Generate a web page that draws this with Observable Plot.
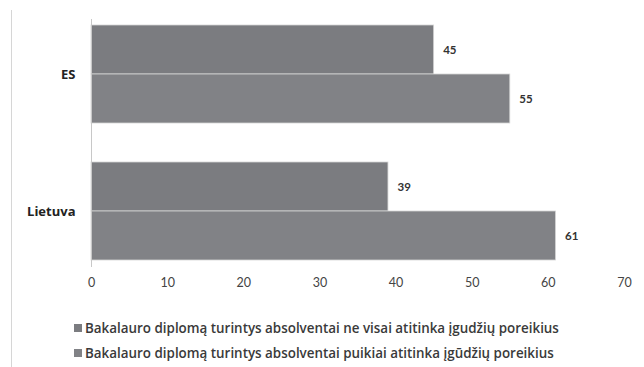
<!DOCTYPE html>
<html>
<head>
<meta charset="utf-8">
<script src="https://cdn.jsdelivr.net/npm/d3@7"></script>
<script src="https://cdn.jsdelivr.net/npm/@observablehq/plot@0.6"></script>
<style>
  body { margin: 0; background: #fff; font-family: Lato, "Open Sans", sans-serif; }
  #chart { position: relative; width: 644px; height: 367px; overflow: hidden; }
  #chart::before { content: ""; position: absolute; left: 11px; top: 10px; bottom: 0; border-left: 1px solid #d6d6d6; }
  #chart svg { display: block; }
  .lg-swatches { margin: 0 0 0 74px !important; font-family: "Open Sans", sans-serif !important; font-size: 13.4px !important; font-weight: 600; color: #3a3a3a; }
  .lg-swatches .lg-swatch { height: 25px; padding: 0 !important; }
  .lg-swatches .lg-swatch svg { margin-right: 3px !important; }
</style>
</head>
<body>
<div id="chart"></div>
<script>
// Survey shares (%) of bachelor graduates by how well they match skill needs
const countries = ["ES", "Lietuva"];
const series = [
  "Bakalauro diplomą turintys absolventai ne visai atitinka įgudžių poreikius",
  "Bakalauro diplomą turintys absolventai puikiai atitinka įgūdžių poreikius"
];
const notFully = [45, 39];
const fully = [55, 61];
const xTicks = [0, 10, 20, 30, 40, 50, 60, 70];
const colors = ["#7b7c80", "#818286"];

const rows = countries.flatMap((c, i) => [
  {country: c, series: series[0], value: notFully[i]},
  {country: c, series: series[1], value: fully[i]}
]);

const plot = Plot.plot({
  width: 644,
  height: 315,
  marginLeft: 91,
  marginRight: 20,
  marginTop: 10,
  marginBottom: 34,
  style: {fontFamily: "Lato, sans-serif", fontSize: "12px", color: "#444", background: "transparent"},
  x: {domain: [0, 70]},
  y: {domain: series, axis: null, paddingInner: 0, paddingOuter: 0.1},
  fy: {domain: countries, paddingInner: 0.2, paddingOuter: 0.082, align: 0.367, label: null},
  color: {domain: series, range: colors},
  marks: [
    Plot.barX(rows, {fy: "country", y: "series", x: "value", fill: "series", stroke: "#d4d4d4", strokeWidth: 0.8}),
    Plot.text(rows, {
      fy: "country", y: "series", x: "value", text: d => String(d.value),
      textAnchor: "start", dx: 9, fontWeight: "bold", fontSize: 11.5, fill: "#333"
    }),
    // value axis baseline spanning both country panels
    Plot.frame({anchor: "left", stroke: "#c8c8c8", facet: "super"}),
    Plot.axisX({ticks: xTicks, tickSize: 0, tickPadding: 12, label: null, fill: "#444", fontSize: 12.5}),
    Plot.axisFy({anchor: "left", tickSize: 0, tickPadding: 16, label: null, fontWeight: "bold", fontSize: 13, fontFamily: "Open Sans, sans-serif", fill: "#222"})
  ]
});

const chart = document.getElementById("chart");
chart.append(plot);
chart.append(plot.legend("color", {className: "lg", columns: 1, swatchSize: 8}));
</script>
</body>
</html>
